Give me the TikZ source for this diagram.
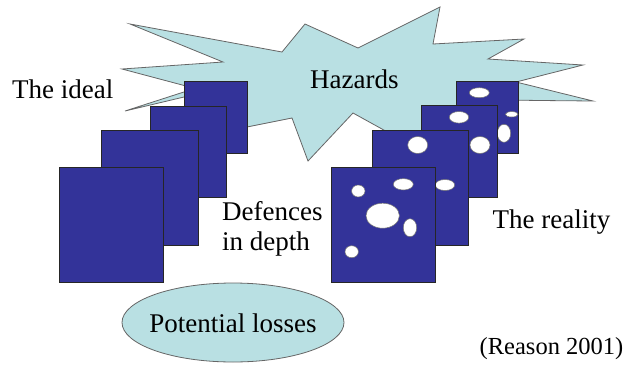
\documentclass[tikz,border=0pt]{standalone}
\usepackage{fontspec}
\setmainfont{Liberation Serif}
\definecolor{plate}{HTML}{333399}
\definecolor{cloud}{HTML}{B9E0E3}
\tikzset{
  platebox/.style={fill=plate, draw=black!85, line width=0.8pt},
  hole/.style={fill=white, draw=black!55, line width=0.5pt},
  cloudshape/.style={fill=cloud, draw=black!60, line width=0.8pt, line join=miter},
  lbl/.style={inner sep=0pt, font=\fontsize{27}{30}\selectfont, text=black}
}
\begin{document}
\begin{tikzpicture}[x=1pt,y=-1pt]
\useasboundingbox (0,0) rectangle (625,365);
% hazards cloud
\draw[cloudshape] (130,24) -- (282,52) -- (305,24) -- (358,48) -- (440,7) -- (433,44)
  -- (524,39) -- (488,59) -- (583,65) -- (516,82) -- (593,101) -- (540,100.5)
  -- (505,100) -- (420,150) -- (353,113) -- (308,161) -- (292,118) -- (235,129.4)
  -- (195,94.4) -- (125,111) -- (195,88.4) -- (122,69) -- (223,62) -- cycle;
\node[lbl, anchor=base west] (haz) at (310,88.3) {Hazards};
% the ideal stack
\draw[platebox] (184,81) rectangle (247,153);
\draw[platebox] (150,106) rectangle (226,197);
\draw[platebox] (101,130) rectangle (198,245);
\draw[platebox] (59,167) rectangle (163,282);
% the reality stack
\draw[platebox] (456,81) rectangle (518,153);
\draw[hole] (479.3,92.7) ellipse [x radius=10, y radius=5];
\draw[hole] (511.7,114.3) ellipse [x radius=6.3, y radius=2.7];
\draw[hole] (504,133.3) ellipse [x radius=6.7, y radius=9];
\draw[platebox] (421,105) rectangle (497,197);
\draw[hole] (459,117.3) ellipse [x radius=9.7, y radius=5.8];
\draw[hole] (480,145) ellipse [x radius=10, y radius=8.5];
\draw[platebox] (372,130) rectangle (468,245);
\draw[hole] (417.7,145) ellipse [x radius=10, y radius=8.5];
\draw[hole] (445,185) ellipse [x radius=9.7, y radius=5.5];
\draw[platebox] (331,167) rectangle (435,282);
\draw[hole] (358.3,191) ellipse [x radius=6.7, y radius=6];
\draw[hole] (403.3,184.3) ellipse [x radius=10, y radius=5.7];
\draw[hole] (382.7,215.7) ellipse [x radius=16.7, y radius=12.5];
\draw[hole] (410,227.7) ellipse [x radius=6.7, y radius=9];
\draw[hole] (351.7,251.7) ellipse [x radius=6.7, y radius=6];
% labels
\node[lbl, anchor=base west] (ideal) at (12,98) {The ideal};
\node[lbl, anchor=base west] (def1) at (222,220) {Defences};
\node[lbl, anchor=base west] (def2) at (222,250) {in depth};
\node[lbl, anchor=base west] (real) at (492.5,228.3) {The reality};
\draw[fill=cloud, draw=black!60, line width=0.8pt] (233,322.5) ellipse [x radius=111, y radius=39.5];
\node[lbl, anchor=base] (loss) at (233,332.5) {Potential losses};
\node[inner sep=0pt, anchor=base east, font=\fontsize{24.5}{28}\selectfont] (ref) at (623.5,354) {(Reason 2001)};
\end{tikzpicture}
\end{document}
